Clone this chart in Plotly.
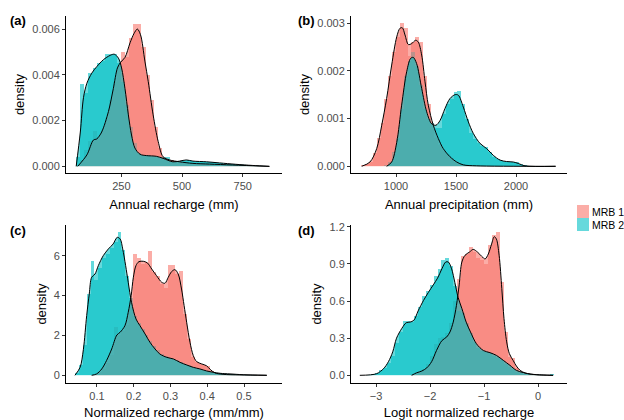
import numpy as np
import plotly.graph_objects as go

# ---------------- data ----------------
# Panel (a): Annual recharge (mm)
A_bin_start, A_bin_width = 64.0, 16.8
A_red_hist = [0.00005, 0.0003, 0.0007, 0.0011, 0.00155, 0.0013, 0.0016, 0.0021, 0.0029, 0.0037,
              0.0044, 0.0050, 0.0048, 0.0056, 0.0062, 0.0062, 0.0052, 0.0040, 0.0029, 0.0017,
              0.0008, 0.0004, 0.0003, 0.0003, 0.00025, 0.0002, 0.00018, 0.00015, 0.00013, 0.00012,
              0.0001, 0.0001, 0.0001, 0.00009, 0.00008, 0.00008, 0.00007, 0.00006, 0.00006, 0.00005,
              0.00004, 0.00004, 0.00003, 0.00003, 0.00002, 0.00002, 0.00001, 0.00001]
A_teal_hist = [0.0004, 0.0036, 0.0032, 0.0041, 0.0043, 0.0045, 0.0046, 0.0049, 0.0049, 0.0049,
               0.0045, 0.0037, 0.0027, 0.0017, 0.0010, 0.0006, 0.0005, 0.0005, 0.0004, 0.0004,
               0.0004, 0.0004, 0.0004, 0.0002, 0.0002, 0.0002, 0.00025, 0.0003, 0.00025, 0.0002,
               0.0002, 0.0002, 0.0002, 0.00018, 0.00015, 0.00015, 0.00012, 0.0001, 0.0001, 0.00008,
               0.00006, 0.00005, 0.00004, 0.00003, 0.00003, 0.00002, 0.00002, 0.00001]
A_red_x = [70, 108, 135, 149, 169, 197, 217, 234, 247, 265, 286, 302, 316, 329, 347, 361, 381,
           402, 422, 449, 490, 545, 613, 708, 860]
A_red_y = [0, 0.0005, 0.00115, 0.0012, 0.0015, 0.0024, 0.0034, 0.0043, 0.00455, 0.00476, 0.0054,
           0.0058, 0.0060, 0.00575, 0.0046, 0.0037, 0.00225, 0.00108, 0.00042, 0.00028, 0.0002,
           0.00013, 0.0001, 0.00006, 0]
A_teal_x = [64, 81, 94, 108, 128, 149, 176, 204, 221, 238, 251, 265, 279, 292, 306, 327, 354, 394,
            422, 462, 490, 518, 545, 601, 655, 722, 791, 860]
A_teal_y = [0, 0.0015, 0.0030, 0.00363, 0.00407, 0.00436, 0.00466, 0.00485, 0.0049, 0.00473,
            0.0043, 0.0034, 0.00225, 0.00137, 0.0008, 0.00053, 0.00047, 0.00044, 0.00035, 0.0002,
            0.00023, 0.00028, 0.00023, 0.0002, 0.00015, 0.00009, 0.00004, 0]
A_xticks = [250, 500, 750]
A_yticks = [0.000, 0.002, 0.004, 0.006]
A_yticklabels = ["0.000", "0.002", "0.004", "0.006"]

# Panel (b): Annual precipitation (mm)
B_bin_start, B_bin_width = 712.0, 32.0
B_red_hist = [0.00002, 0.00005, 0.0001, 0.00028, 0.0006, 0.0009, 0.0014, 0.0019, 0.0024, 0.0027,
              0.0030, 0.0029, 0.0023, 0.0026, 0.0027, 0.0026, 0.0019, 0.0013, 0.0009, 0.0006,
              0.00045, 0.00035, 0.00025, 0.00018, 0.0001, 0.00006, 0.00004, 0.00003, 0.00002, 0.00001]
B_teal_hist = [0, 0, 0, 0, 0, 0, 0.00002, 0.0001, 0.0003, 0.0006,
               0.0012, 0.0019, 0.0022, 0.0024, 0.0021, 0.0017, 0.0012, 0.0010, 0.0009, 0.0008,
               0.0008, 0.0011, 0.0013, 0.0014, 0.00155, 0.00158, 0.0013, 0.0010, 0.0007, 0.00058,
               0.00048, 0.00042, 0.0004, 0.0003, 0.0002, 0.00015, 0.00011, 0.0001, 0.0001, 0.00009,
               0.00008, 0.00005, 0.00002, 0.00001]
B_red_x = [714, 783, 839, 881, 922, 964, 1006, 1033, 1053, 1075, 1103, 1131, 1164, 1186, 1214,
           1242, 1269, 1311, 1353, 1394, 1450, 1506, 1561, 1672, 2330]
B_red_y = [0, 0.00009, 0.00037, 0.00086, 0.00142, 0.00212, 0.00271, 0.00289, 0.0029, 0.00275,
           0.00255, 0.00257, 0.00264, 0.0026, 0.00233, 0.00177, 0.00128, 0.00086, 0.00058,
           0.00037, 0.0002, 0.00009, 0.00003, 0.00001, 0]
B_teal_x = [922, 964, 1006, 1047, 1089, 1122, 1144, 1172, 1214, 1256, 1297, 1333, 1367, 1408,
            1450, 1492, 1519, 1561, 1603, 1644, 1700, 1756, 1811, 1867, 1922, 1978, 2019, 2075, 2330]
B_teal_y = [0, 0.00009, 0.0005, 0.00128, 0.00198, 0.00226, 0.00228, 0.00215, 0.00163, 0.00114,
            0.00089, 0.00086, 0.00096, 0.00121, 0.00142, 0.0015, 0.00149, 0.00124, 0.00093,
            0.00069, 0.00048, 0.00037, 0.00023, 0.00013, 0.0001, 0.00009, 0.00006, 0.00001, 0]
B_xticks = [1000, 1500, 2000]
B_yticks = [0.000, 0.001, 0.002, 0.003]
B_yticklabels = ["0.000", "0.001", "0.002", "0.003"]

# Panel (c): Normalized recharge (mm/mm)
C_bin_start, C_bin_width = 0.0405, 0.0105
C_red_hist = [0, 0, 0, 0, 0.02, 0.05, 0.15, 0.3, 0.6, 1.0,
              2.4, 2.0, 2.2, 2.5, 3.5, 6.1, 5.9, 5.6, 5.7, 6.25,
              5.2, 5.0, 4.6, 4.4, 5.55, 5.55, 5.1, 5.25, 3.1, 1.8,
              0.9, 0.65, 0.55, 0.5, 0.45, 0.2, 0.1, 0.07, 0.05, 0.04,
              0.03, 0.03, 0.02, 0.02, 0.01, 0.01, 0.01, 0.005, 0.005, 0]
C_teal_hist = [0.1, 0.5, 1.5, 4.1, 5.75, 4.8, 5.4, 5.9, 6.1, 6.4,
               6.7, 7.17, 6.3, 5.0, 3.9, 3.0, 2.6, 2.3, 2.0, 1.7,
               1.45, 1.25, 1.05, 0.95, 0.88, 0.82, 0.75, 0.65, 0.55, 0.5,
               0.42, 0.35, 0.3, 0.25, 0.2, 0.15, 0.12, 0.1, 0.08, 0.07,
               0.06, 0.05, 0.04, 0.03, 0.03, 0.02, 0.02, 0.01, 0.01, 0.02]
C_red_x = [0.0855, 0.099, 0.113, 0.126, 0.140, 0.154, 0.163, 0.176, 0.185, 0.193, 0.199, 0.206,
           0.214, 0.226, 0.237, 0.249, 0.262, 0.276, 0.285, 0.294, 0.303, 0.312, 0.321, 0.330,
           0.337, 0.344, 0.353, 0.362, 0.371, 0.385, 0.398, 0.409, 0.421, 0.443, 0.489, 0.562]
C_red_y = [0, 0.07, 0.32, 0.74, 1.32, 2.02, 2.16, 2.49, 3.16, 4.0, 4.92, 5.5, 5.7, 5.72, 5.64,
           5.33, 5.0, 4.67, 4.62, 4.92, 5.2, 5.3, 5.08, 4.33, 3.5, 2.66, 1.66, 0.99, 0.69, 0.57,
           0.48, 0.28, 0.12, 0.05, 0.02, 0]
C_teal_x = [0.040, 0.054, 0.063, 0.072, 0.079, 0.0855, 0.0946, 0.1036, 0.117, 0.131, 0.144, 0.155,
            0.163, 0.170, 0.178, 0.185, 0.194, 0.206, 0.217, 0.231, 0.244, 0.258, 0.271, 0.290,
            0.308, 0.326, 0.344, 0.362, 0.380, 0.398, 0.417, 0.435, 0.462, 0.498, 0.562]
C_teal_y = [0, 0.4, 1.3, 3.0, 4.08, 4.92, 5.08, 5.5, 6.0, 6.34, 6.59, 6.92, 6.84, 6.34, 5.5, 4.67,
            3.66, 2.83, 2.49, 2.07, 1.66, 1.32, 1.07, 0.9, 0.82, 0.65, 0.52, 0.4, 0.32, 0.22, 0.15,
            0.1, 0.07, 0.03, 0]
C_xticks = [0.1, 0.2, 0.3, 0.4, 0.5]
C_yticks = [0, 2, 4, 6]
C_yticklabels = ["0", "2", "4", "6"]

# Panel (d): Logit normalized recharge
D_bin_start, D_bin_width = -3.30, 0.072
D_red_hist = [0, 0, 0, 0, 0, 0, 0, 0, 0, 0,
              0, 0, 0, 0.01, 0.02, 0.03, 0.05, 0.09, 0.16, 0.25,
              0.3, 0.31, 0.34, 0.42, 0.6, 0.78, 0.96, 0.98, 1.04, 1.0,
              0.95, 0.93, 0.90, 1.05, 1.13, 1.16, 0.75, 0.35, 0.15, 0.14,
              0.06, 0.03, 0.01, 0.005, 0, 0, 0, 0, 0, 0]
D_teal_hist = [0, 0.003, 0.005, 0.01, 0.02, 0.04, 0.06, 0.1, 0.16, 0.26,
               0.35, 0.44, 0.44, 0.43, 0.48, 0.55, 0.64, 0.68, 0.73, 0.8,
               0.86, 0.93, 0.95, 0.88, 0.72, 0.52, 0.5, 0.42, 0.34, 0.27,
               0.22, 0.2, 0.19, 0.18, 0.16, 0.14, 0.12, 0.09, 0.07, 0.05,
               0.03, 0.02, 0.012, 0.008, 0.005, 0.003, 0.002, 0.002, 0.001, 0.01]
D_red_x = [-2.34, -2.25, -2.15, -2.06, -1.97, -1.88, -1.78, -1.69, -1.63, -1.57, -1.51, -1.46,
           -1.41, -1.35, -1.27, -1.20, -1.12, -1.04, -0.98, -0.92, -0.86, -0.81, -0.77, -0.72,
           -0.67, -0.63, -0.58, -0.53, -0.46, -0.40, -0.33, -0.24, -0.02, 0.28]
D_red_y = [0, 0.02, 0.035, 0.06, 0.11, 0.20, 0.28, 0.31, 0.35, 0.43, 0.565, 0.73, 0.915, 0.97,
           0.995, 1.017, 0.995, 0.96, 0.94, 0.98, 1.06, 1.12, 1.10, 0.97, 0.70, 0.46, 0.27, 0.175,
           0.12, 0.075, 0.04, 0.019, 0.005, 0]
D_teal_x = [-3.30, -2.99, -2.86, -2.77, -2.69, -2.62, -2.52, -2.44, -2.37, -2.30, -2.22, -2.12,
            -2.03, -1.94, -1.86, -1.78, -1.71, -1.66, -1.60, -1.54, -1.48, -1.41, -1.33, -1.25,
            -1.14, -1.01, -0.89, -0.77, -0.64, -0.52, -0.40, -0.27, -0.12, 0.07, 0.28]
D_teal_y = [0, 0.013, 0.054, 0.11, 0.19, 0.30, 0.38, 0.425, 0.43, 0.444, 0.52, 0.605, 0.67, 0.73,
            0.785, 0.86, 0.915, 0.915, 0.86, 0.75, 0.63, 0.54, 0.43, 0.35, 0.255, 0.20, 0.183,
            0.161, 0.12, 0.081, 0.04, 0.022, 0.008, 0.003, 0]
D_xticks = [-3, -2, -1, 0]
D_xticklabels = ["\u22123", "\u22122", "\u22121", "0"]
D_yticks = [0.0, 0.3, 0.6, 0.9, 1.2]
D_yticklabels = ["0.0", "0.3", "0.6", "0.9", "1.2"]

series_names = ["MRB 1", "MRB 2"]
panel_tags = ["(a)", "(b)", "(c)", "(d)"]
x_titles = ["Annual recharge (mm)", "Annual precipitation (mm)",
            "Normalized recharge (mm/mm)", "Logit normalized recharge"]

# ---------------- style ----------------
W, H = 624, 420
FONT = "Liberation Sans, Arial, sans-serif"
RED_A = "rgba(248,118,109,0.6)"
TEAL_A = "rgba(0,191,196,0.6)"
TICK_COL = "#4D4D4D"

# pixel boxes of the four panels: (left, right, top, bottom)
boxes = [(66, 282, 16, 173), (351, 567, 16, 173), (66, 282, 225, 383), (351, 567, 225, 383)]
x_ranges = [[22, 912], [625, 2425], [0.0157, 0.6034], [-3.463, 0.537]]
y_ranges = [[-0.00029, 0.00657], [-0.00014, 0.003147], [-0.386, 7.54], [-0.062, 1.214]]

panels = [
    (A_bin_start, A_bin_width, A_red_hist, A_teal_hist, A_red_x, A_red_y, A_teal_x, A_teal_y,
     A_xticks, [str(v) for v in A_xticks], A_yticks, A_yticklabels),
    (B_bin_start, B_bin_width, B_red_hist, B_teal_hist, B_red_x, B_red_y, B_teal_x, B_teal_y,
     B_xticks, [str(v) for v in B_xticks], B_yticks, B_yticklabels),
    (C_bin_start, C_bin_width, C_red_hist, C_teal_hist, C_red_x, C_red_y, C_teal_x, C_teal_y,
     C_xticks, [str(v) for v in C_xticks], C_yticks, C_yticklabels),
    (D_bin_start, D_bin_width, D_red_hist, D_teal_hist, D_red_x, D_red_y, D_teal_x, D_teal_y,
     D_xticks, D_xticklabels, D_yticks, D_yticklabels),
]

fig = go.Figure()
layout_axes = {}

for i, (bs, bw, rh, th, rx, ry, tx, ty, xt, xtl, yt, ytl) in enumerate(panels):
    n = i + 1
    xa = "x" if n == 1 else f"x{n}"
    ya = "y" if n == 1 else f"y{n}"
    # histograms
    for hist, col, name in ((rh, RED_A, series_names[0]), (th, TEAL_A, series_names[1])):
        centers = bs + bw * (np.arange(len(hist)) + 0.5)
        fig.add_trace(go.Bar(x=centers, y=hist, width=bw, marker=dict(color=col, line=dict(width=0)),
                             name=name, showlegend=False, xaxis=xa, yaxis=ya, hoverinfo="skip"))
    # density fills
    for dx, dy, col, name in ((rx, ry, RED_A, series_names[0]), (tx, ty, TEAL_A, series_names[1])):
        fig.add_trace(go.Scatter(x=dx, y=dy, fill="tozeroy", fillcolor=col, mode="lines",
                                 line=dict(width=0, shape="spline", smoothing=0.9, color=col),
                                 name=name, showlegend=False, xaxis=xa, yaxis=ya))
    # density outlines
    for dx, dy, name in ((rx, ry, series_names[0]), (tx, ty, series_names[1])):
        fig.add_trace(go.Scatter(x=dx, y=dy, mode="lines",
                                 line=dict(width=1, color="black", shape="spline", smoothing=0.9),
                                 name=name, showlegend=False, xaxis=xa, yaxis=ya))

    l, r, t, b = boxes[i]
    common = dict(showgrid=False, zeroline=False, showline=True, linecolor="black", linewidth=1,
                  ticks="outside", ticklen=3, tickwidth=1, tickcolor="#333333", automargin=False,
                  tickfont=dict(family=FONT, size=11, color=TICK_COL))
    layout_axes["xaxis" if n == 1 else f"xaxis{n}"] = dict(
        domain=[l / W, r / W], anchor=ya, range=x_ranges[i], tickmode="array",
        tickvals=xt, ticktext=xtl,
        title=dict(text=x_titles[i], font=dict(family=FONT, size=13, color="black"), standoff=8),
        **common)
    layout_axes["yaxis" if n == 1 else f"yaxis{n}"] = dict(
        domain=[1 - b / H, 1 - t / H], anchor=xa, range=y_ranges[i], tickmode="array",
        tickvals=yt, ticktext=ytl,
        title=dict(text="density", font=dict(family=FONT, size=13, color="black"), standoff=4),
        **common)

# panel tags
tag_pos = [(18, 20), (306, 20), (18, 230), (306, 230)]
annotations = []
for tag, (px, py) in zip(panel_tags, tag_pos):
    annotations.append(dict(text=f"<b>{tag}</b>", x=px / W, y=1 - py / H, xref="paper", yref="paper",
                            showarrow=False, xanchor="center", yanchor="middle",
                            font=dict(family=FONT, size=13, color="black")))

# legend (drawn as key boxes + labels)
shapes = []
key_cols = [RED_A, TEAL_A]
key_tops = [205, 218]
for name, col, kt in zip(series_names, key_cols, key_tops):
    shapes.append(dict(type="rect", xref="paper", yref="paper", x0=577 / W, x1=589 / W,
                       y0=1 - (kt + 13) / H, y1=1 - kt / H, fillcolor=col, line=dict(width=0)))
    annotations.append(dict(text=name, x=590 / W, y=1 - (kt + 6.5) / H, xref="paper", yref="paper",
                            showarrow=False, xanchor="left", yanchor="middle",
                            font=dict(family=FONT, size=10.5, color="black")))

fig.update_layout(
    width=W, height=H, margin=dict(l=0, r=0, t=0, b=0, autoexpand=False),
    paper_bgcolor="white", plot_bgcolor="white",
    barmode="overlay", bargap=0, showlegend=False,
    font=dict(family=FONT, size=11, color="black"),
    annotations=annotations, shapes=shapes,
    **layout_axes,
)

fig.write_html("out.html", config={"displayModeBar": False},
               post_script="document.body.style.margin='0';document.body.style.padding='0';"
                           "document.body.style.overflow='hidden';")
